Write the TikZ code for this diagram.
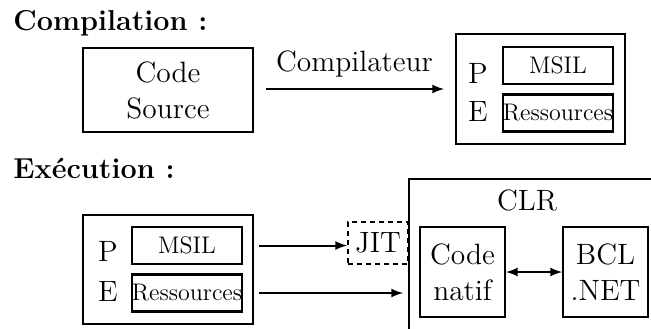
\documentclass[tikz,border=0pt]{standalone}
\usetikzlibrary{arrows}

\begin{document}
\begin{tikzpicture}[x=0.5pt,y=-0.5pt,
  bloc/.style={draw,line width=1pt,inner sep=0pt,align=center,font=\fontsize{14.7}{18}\selectfont},
  petit/.style={draw,line width=1.1pt,inner sep=0pt,minimum width=55pt,minimum height=18.5pt,font=\fontsize{12}{14}\selectfont},
  lettre/.style={inner sep=0pt,font=\fontsize{14.7}{18}\selectfont},
  titre/.style={anchor=base west,inner sep=0pt,font=\fontsize{14.4}{17}\selectfont\bfseries},
  fleche/.style={-latex,line width=1pt}]

\clip (0,0) rectangle (651,328);

% compilation
\node [titre] (titrecomp) at (13,30) {Compilation :};
\node [bloc,minimum width=85pt,minimum height=42pt] (source) at (168,90) {Code\\Source};
\node [bloc,minimum width=84.5pt,minimum height=55pt] (pe1) at (540.5,89) {};
\node [petit] (msil1) at (558,65.5) {MSIL};
\node [petit] (res1) at (558,113) {Ressources};
\node [lettre] (p1) at (478,73) {P};
\node [lettre] (e1) at (478,111) {E};

\draw [fleche,shorten <=6pt,shorten >=5.5pt] (source.east |- pe1) -- node [midway,above=5.5pt,inner sep=0pt,font=\fontsize{14.7}{18}\selectfont] {Compilateur} (pe1.west);

% execution
\node [titre] (titreexec) at (13,178) {Exécution :};
\node [bloc,minimum width=85pt,minimum height=54.5pt] (pe2) at (168,269.5) {};
\node [petit] (msil2) at (187,245.5) {MSIL};
\node [petit] (res2) at (187,293) {Ressources};
\node [lettre] (p2) at (108,251) {P};
\node [lettre] (e2) at (108,291) {E};

\node [bloc,dash pattern=on 2.5pt off 2pt,minimum width=30pt,minimum height=21pt] (jit) at (378,243) {JIT};
\node [bloc,anchor=north west,minimum width=170pt,minimum height=110pt] (clr) at (408,178) {};
\node [lettre] (clrtexte) at (527,200) {CLR};
\node [bloc,minimum width=42.5pt,minimum height=45pt] (natif) at (462.5,272) {Code\\natif};
\node [bloc,minimum width=42.5pt,minimum height=45pt] (bcl) at (605.5,272) {BCL\\.NET};

\draw [fleche,shorten <=2.5pt] (pe2.east |- msil2) -- (jit.west |- msil2);
\draw [fleche,shorten <=2.5pt,shorten >=2.5pt] (pe2.east |- res2) -- (clr.west |- res2);
\draw [latex-latex,line width=1pt] (natif) -- (bcl);
\end{tikzpicture}
\end{document}
